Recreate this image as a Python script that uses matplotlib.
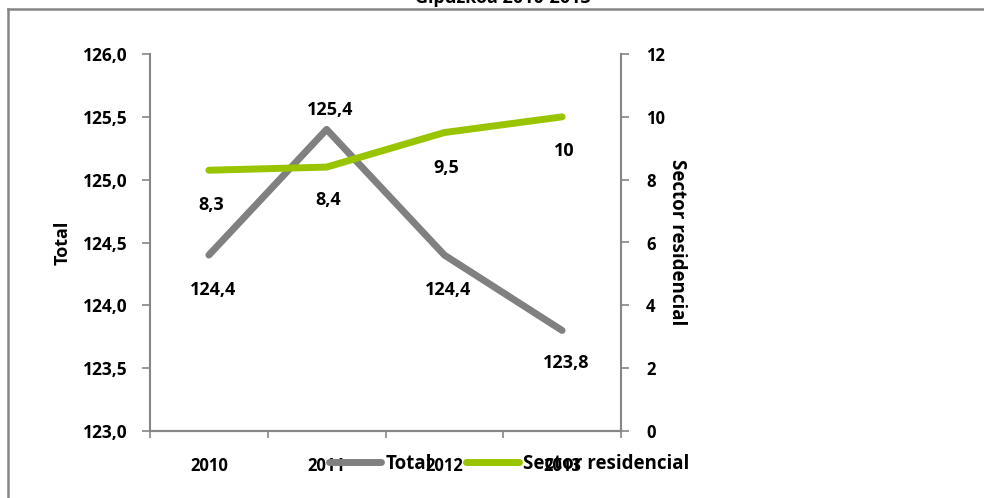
import matplotlib
matplotlib.use("Agg")
import matplotlib.pyplot as plt
from matplotlib.lines import Line2D
from matplotlib.ticker import FuncFormatter, FixedLocator

plt.rcParams['font.family'] = ['Open Sans', 'DejaVu Sans']

# data
years = ['2010', '2011', '2012', '2013']
total = [124.4, 125.4, 124.4, 123.8]
residencial = [8.3, 8.4, 9.5, 10]
total_labels = ['124,4', '125,4', '124,4', '123,8']
res_labels = ['8,3', '8,4', '9,5', '10']

GRAY = '#808080'
GREEN = '#99C400'
SPINE = '#868686'

W, H = 984, 498
fig = plt.figure(figsize=(W / 100, H / 100), dpi=100)
ax = fig.add_axes([150 / W, 1 - 431 / H, (621 - 150) / W, (431 - 54) / H])
ax2 = ax.twinx()

x = list(range(len(years)))
ax.plot(x, total, color=GRAY, lw=5, solid_capstyle='round', zorder=3)
ax2.plot(x, residencial, color=GREEN, lw=5, solid_capstyle='round', zorder=3)

ax.set_xlim(-0.5, 3.5)
ax.set_ylim(123.0, 126.0)
ax.set_yticks([123.0, 123.5, 124.0, 124.5, 125.0, 125.5, 126.0])
ax.yaxis.set_major_formatter(FuncFormatter(lambda v, p: f"{v:.1f}".replace('.', ',')))
ax2.set_ylim(0, 12)
ax2.set_yticks(range(0, 13, 2))

# category boundaries as ticks, names at centres
ax.xaxis.set_major_locator(FixedLocator([-0.5, 0.5, 1.5, 2.5, 3.5]))
ax.xaxis.set_minor_locator(FixedLocator(x))
ax.set_xticklabels([])
ax.set_xticklabels(years, minor=True)
ax.tick_params(axis='x', which='minor', length=0, pad=19, labelsize=12)
ax.tick_params(axis='x', which='major', direction='out', length=5, color=SPINE, width=1.2)
ax.tick_params(axis='y', length=6, color=SPINE, width=1.2, labelsize=12.5, pad=10)
ax2.tick_params(axis='y', length=6, color=SPINE, width=1.2, labelsize=12, pad=12)
for lab in ax.get_xticklabels(minor=True) + ax.get_yticklabels() + ax2.get_yticklabels():
    lab.set_fontweight('bold')

for a in (ax, ax2):
    a.spines['top'].set_visible(False)
    for s in ('left', 'right', 'bottom'):
        a.spines[s].set_color(SPINE)
        a.spines[s].set_linewidth(1.5)
ax.spines['right'].set_visible(False)
ax2.spines['left'].set_visible(False)

ax.set_ylabel('Total', fontsize=13, fontweight='bold', labelpad=8)
ax2.set_ylabel('Sector residencial', fontsize=13.5, fontweight='bold', rotation=-90,
               labelpad=16)

# data labels (offsets in pixels)
total_off = [-35, 19, -35, -33]
for xi, v, t, dy in zip(x, total, total_labels, total_off):
    ax.annotate(t, (xi, v), xytext=(4, dy), textcoords='offset pixels',
                ha='center', va='center', fontsize=13, fontweight='bold')
res_off = [-35, -33, -35, -34]
for xi, v, t, dy in zip(x, residencial, res_labels, res_off):
    ax2.annotate(t, (xi, v), xytext=(2, dy), textcoords='offset pixels',
                 ha='center', va='center', fontsize=13, fontweight='bold')

# legend
handles = [Line2D([], [], color=GRAY, lw=5, solid_capstyle='round'),
           Line2D([], [], color=GREEN, lw=5, solid_capstyle='round')]
fig.legend(handles, ['Total', 'Sector residencial'], loc='center left',
           bbox_to_anchor=(312 / W, 1 - 464 / H), ncol=2, frameon=False,
           handlelength=2.8, handletextpad=0.2, columnspacing=1.85,
           prop={'size': 13.5, 'weight': 'bold'})

# title cut off at the top, and chart border
fig.text(503 / W, 1 - 3 / H, 'Gipuzkoa 2010-2013', ha='center', va='baseline',
         fontsize=13, fontweight='bold')
fig.add_artist(Line2D([8 / W, 983 / W], [1 - 9 / H, 1 - 9 / H], color=SPINE, lw=1.8,
                      transform=fig.transFigure))
fig.add_artist(Line2D([8 / W, 8 / W], [1 - 9 / H, 0], color=SPINE, lw=1.8,
                      transform=fig.transFigure))

fig.savefig('out.png', dpi=100)
